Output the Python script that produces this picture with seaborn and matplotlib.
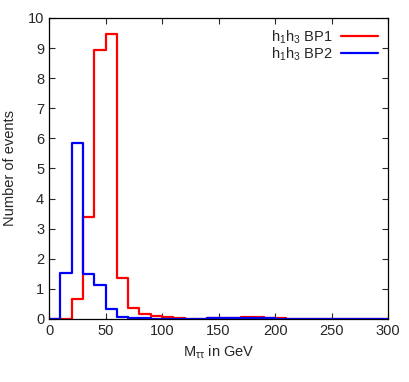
import numpy as np
import pandas as pd
import seaborn as sns
import matplotlib.pyplot as plt
from matplotlib.lines import Line2D

# bin edges every 10 GeV from 0 to 300
edges = list(range(0, 310, 10))
centers = [e + 5 for e in edges[:-1]]

bp1 = [0, 0, 0.65, 3.38, 8.92, 9.48, 1.35, 0.38, 0.15, 0.1,
       0.06, 0.03, 0.01, 0.01, 0.03, 0.03, 0.03, 0.06, 0.05, 0.04,
       0.03, 0.01, 0.01, 0.01, 0, 0, 0, 0, 0, 0]
bp2 = [0, 1.53, 5.84, 1.48, 1.14, 0.33, 0.07, 0.03, 0.02, 0.01,
       0.01, 0.01, 0.01, 0.01, 0.03, 0.03, 0.03, 0.03, 0.03, 0.02,
       0.01, 0.01, 0.01, 0.01, 0.01, 0.01, 0.01, 0.01, 0.01, 0.01]

df = pd.DataFrame({'m': centers + centers,
                   'w': bp1 + bp2,
                   'bp': ['BP1'] * len(centers) + ['BP2'] * len(centers)})

sns.set_style("ticks")
plt.rcParams['font.family'] = ['Liberation Sans', 'DejaVu Sans']
plt.rcParams['mathtext.fontset'] = 'custom'
plt.rcParams['mathtext.rm'] = 'Liberation Sans'
plt.rcParams['mathtext.it'] = 'Liberation Sans'

fig = plt.figure(figsize=(4.09, 3.82), dpi=100)
ax = fig.add_axes([0.12, 0.165, 0.829, 0.788])

sns.histplot(data=df[df.bp == 'BP1'], x='m', weights='w', bins=edges,
             element='step', fill=False, color='#ff0000', linewidth=1.6, ax=ax)
sns.histplot(data=df[df.bp == 'BP2'], x='m', weights='w', bins=edges,
             element='step', fill=False, color='#0000ff', linewidth=1.6, ax=ax)

ax.set_xlim(0, 300)
ax.set_ylim(0, 10)
ax.set_xticks(range(0, 301, 50))
ax.set_yticks(range(0, 11))
ax.tick_params(direction='in', top=True, right=True, labelsize=10.5, length=4, width=0.8)
for s in ax.spines.values():
    s.set_linewidth(0.9)
    s.set_color('black')

ax.set_xlabel(r'M$_{\tau\tau}$ in GeV', fontsize=10.5)
ax.set_ylabel('Number of events', fontsize=10.5, labelpad=8)

handles = [Line2D([], [], color='#ff0000', lw=1.6),
           Line2D([], [], color='#0000ff', lw=1.6)]
ax.legend(handles, [r'h$_1$h$_3$ BP1', r'h$_1$h$_3$ BP2'], loc='upper right',
          markerfirst=False, frameon=False, fontsize=10.5, handlelength=2.5,
          labelspacing=0.0, borderaxespad=0.3, handletextpad=0.6)

plt.savefig('out.png', dpi=100)
